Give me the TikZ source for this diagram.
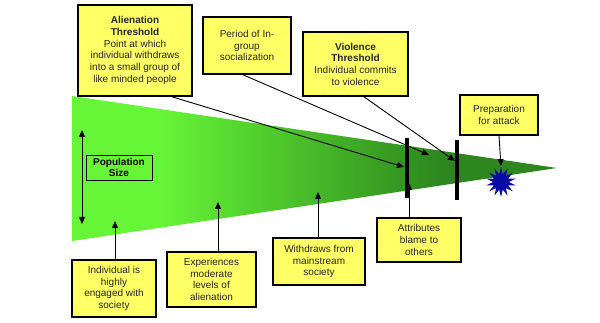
\documentclass[tikz,border=0pt]{standalone}
\usepackage{fontspec}
\setmainfont{Liberation Sans}
\usetikzlibrary{arrows.meta, shapes.geometric}
\definecolor{lgreen}{RGB}{102,245,55}
\definecolor{dgreen}{RGB}{45,135,30}
\definecolor{noteyellow}{RGB}{255,255,102}
\definecolor{starblue}{RGB}{10,10,165}
\pgfdeclarehorizontalshading{wedgeshade}{100bp}{color(0bp)=(lgreen); color(34bp)=(lgreen); color(63bp)=(dgreen); color(100bp)=(dgreen)}

\tikzset{
    note/.style={draw, line width=1.6pt, fill=noteyellow, align=center, inner sep=1pt, text=black!85, font=\fontsize{10}{11.7}\selectfont},
    pointer/.style={-{Triangle[length=7pt, width=6pt]}, line width=0.9pt},
    bar/.style={line width=4.5pt},
}

\begin{document}
\begin{tikzpicture}[x=1pt, y=-1pt]
    \useasboundingbox (0,0) rectangle (600,323);

    % Wedge
    \shade[shading=wedgeshade] (72,96) -- (557,168) -- (72,241) -- cycle;

    % Population size
    \coordinate (poptop) at (82,130);
    \coordinate (popbot) at (82,224);
    \draw[{Triangle[length=7pt, width=6pt]}-{Triangle[length=7pt, width=6pt]}, line width=0.9pt] (poptop) -- (popbot);
    \node[draw, line width=0.8pt, align=center, inner sep=1pt, minimum width=66pt, minimum height=25pt, font=\fontsize{10}{11.7}\selectfont\bfseries] (popsize) at (119,167.5) {Population\\Size};

    % Thresholds
    \coordinate (alienup) at (407,138);
    \coordinate (aliendown) at (407,198);
    \coordinate (violup) at (457,140);
    \coordinate (violdown) at (457,200);
    \draw[bar] (alienup) -- (aliendown);
    \draw[bar] (violup) -- (violdown);
    \node[star, star points=14, star point ratio=1.9, fill=starblue, minimum size=30pt, inner sep=0pt] (attack) at (501,182) {};

    % Upper notes
    \node[note, minimum width=114pt, minimum height=91pt] (alien) at (135,50.5) {\textbf{Alienation}\\\textbf{Threshold}\\Point at which\\individual withdraws\\into a small group of\\like minded people};
    \node[note, minimum width=88pt, minimum height=57pt] (period) at (247,45.5) {Period of In-\\group\\socialization};
    \node[note, minimum width=105pt, minimum height=64pt] (violence) at (355.5,64) {\textbf{Violence}\\\textbf{Threshold}\\Individual commits\\to violence};
    \node[note, minimum width=78pt, minimum height=40pt] (prep) at (499,115) {Preparation\\for attack};

    % Lower notes
    \node[note, minimum width=84pt, minimum height=57pt] (engaged) at (114,288.5) {Individual is\\highly\\engaged with\\society};
    \node[note, minimum width=89pt, minimum height=55pt] (moderate) at (211.5,279.5) {Experiences\\moderate\\levels of\\alienation};
    \node[note, minimum width=92pt, minimum height=47pt] (withdraws) at (319,261.5) {Withdraws from\\mainstream\\society};
    \node[note, minimum width=84pt, minimum height=44pt] (blame) at (419,240) {Attributes\\blame to\\others};

    % Pointers
    \coordinate (alienend) at (404,167);
    \coordinate (periodend) at (429,155);
    \coordinate (violend) at (455,161);
    \coordinate (engagedend) at (115,221);
    \coordinate (moderateend) at (218,202);
    \coordinate (withdrawsend) at (318,192);
    \coordinate (blameend) at (409,183);
    \draw[pointer] ([xshift=37pt]alien.south) -- (alienend);
    \draw[pointer] ([xshift=-4pt]period.south) -- (periodend);
    \draw[pointer] ([xshift=8.5pt]violence.south) -- (violend);
    \draw[pointer] (prep.south) -- (attack.north);
    \draw[pointer] ([xshift=1pt]engaged.north) -- (engagedend);
    \draw[pointer] ([xshift=6.5pt]moderate.north) -- (moderateend);
    \draw[pointer] ([xshift=-1pt]withdraws.north) -- (withdrawsend);
    \draw[pointer] ([xshift=-10pt]blame.north) -- (blameend);
\end{tikzpicture}
\end{document}
